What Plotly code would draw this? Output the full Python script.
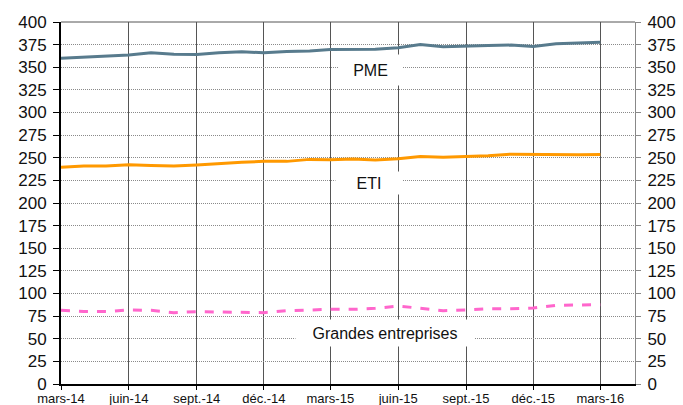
import plotly.graph_objects as go

months = ["2014-03-01", "2014-04-01", "2014-05-01", "2014-06-01", "2014-07-01",
          "2014-08-01", "2014-09-01", "2014-10-01", "2014-11-01", "2014-12-01",
          "2015-01-01", "2015-02-01", "2015-03-01", "2015-04-01", "2015-05-01",
          "2015-06-01", "2015-07-01", "2015-08-01", "2015-09-01", "2015-10-01",
          "2015-11-01", "2015-12-01", "2016-01-01", "2016-02-01", "2016-03-01"]

pme = [360, 361, 361.7, 363.5, 366, 364.3, 364, 366, 367, 366, 367.5, 368, 369.5,
       370, 370, 371.6, 375, 372.7, 373, 374, 374.5, 373, 376, 376.5, 377.5]

eti = [239.4, 241, 241, 242.4, 241.5, 241, 242, 243.8, 245, 246, 246, 248.2, 247.8,
       248.6, 247.5, 249, 251.5, 250.5, 251, 252.3, 254, 253.7, 253.3, 253.3, 253.7]

ge = [81.4, 80, 80, 81.8, 81.4, 78.8, 80, 79.6, 79.3, 78.8, 81, 81.8, 82.5,
      82.5, 83.6, 86.2, 83.6, 81, 81.8, 83.2, 83.2, 84, 87, 87, 87.6]

tick_dates = ["2014-03-01", "2014-06-01", "2014-09-01", "2014-12-01", "2015-03-01",
              "2015-06-01", "2015-09-01", "2015-12-01", "2016-03-01"]
tick_labels = ["mars-14", "juin-14", "sept.-14", "déc.-14", "mars-15",
               "juin-15", "sept.-15", "déc.-15", "mars-16"]

FONT = "Liberation Sans, Arial, sans-serif"

fig = go.Figure()
fig.add_trace(go.Scatter(x=months, y=pme, mode="lines", name="PME",
                         line=dict(color="#587b8d", width=3)))
fig.add_trace(go.Scatter(x=months, y=eti, mode="lines", name="ETI",
                         line=dict(color="#ff9900", width=3)))
fig.add_trace(go.Scatter(x=months, y=ge, mode="lines", name="Grandes entreprises",
                         line=dict(color="#ff66cc", width=3, dash="dash")))
# invisible trace to anchor right axis
fig.add_trace(go.Scatter(x=months, y=pme, yaxis="y2", mode="lines",
                         line=dict(width=0), opacity=0, showlegend=False,
                         hoverinfo="skip"))

fig.update_layout(
    width=683, height=405,
    margin=dict(l=61, r=48, t=22, b=21),
    paper_bgcolor="white", plot_bgcolor="white",
    showlegend=False,
    font=dict(family=FONT, color="#111"),
    xaxis=dict(
        type="date", automargin=False,
        range=["2014-03-01", "2016-04-17"],
        tickmode="array", tickvals=tick_dates, ticktext=tick_labels,
        tickfont=dict(size=13), ticklabelstandoff=-3,
        showgrid=True, gridcolor="#555", gridwidth=1,
        showline=True, linecolor="black", linewidth=2,
        ticks="outside", ticklen=4, tickcolor="black",
        zeroline=False,
    ),
    yaxis=dict(
        automargin=False,
        range=[0, 400], dtick=25, tick0=0,
        tickfont=dict(size=17), ticklabelstandoff=3,
        showgrid=True, gridcolor="#8a8a8a", gridwidth=1, griddash="1px,1px",
        showline=True, linecolor="black", linewidth=2,
        ticks="outside", ticklen=6, tickcolor="black",
        zeroline=False,
    ),
    yaxis2=dict(
        automargin=False,
        overlaying="y", side="right",
        range=[0, 400], dtick=25, tick0=0,
        tickfont=dict(size=17), ticklabelstandoff=3,
        showgrid=False,
        showline=True, linecolor="#888", linewidth=1,
        ticks="outside", ticklen=5, tickcolor="#888",
        zeroline=False,
    ),
)

# top border
fig.add_shape(type="line", xref="paper", yref="paper", x0=0, x1=1, y0=1, y1=1,
              line=dict(color="#555", width=1))

fig.add_annotation(text="PME", xref="paper", yref="y", x=0.540, y=347,
                   showarrow=False, font=dict(size=16, family=FONT, color="#111"),
                   bgcolor="white", width=61, height=28)
fig.add_annotation(text="ETI", xref="paper", yref="y", x=0.537, y=222,
                   showarrow=False, font=dict(size=16, family=FONT, color="#111"),
                   bgcolor="white", width=64, height=20)
fig.add_annotation(text="Grandes entreprises", xref="paper", yref="y", x=0.564, y=56,
                   showarrow=False, font=dict(size=16, family=FONT, color="#111"),
                   bgcolor="white", width=176, height=24)

fig.write_html("out.html", config={"displayModeBar": False},
               post_script="document.body.style.margin='0';document.body.style.overflow='hidden';")
